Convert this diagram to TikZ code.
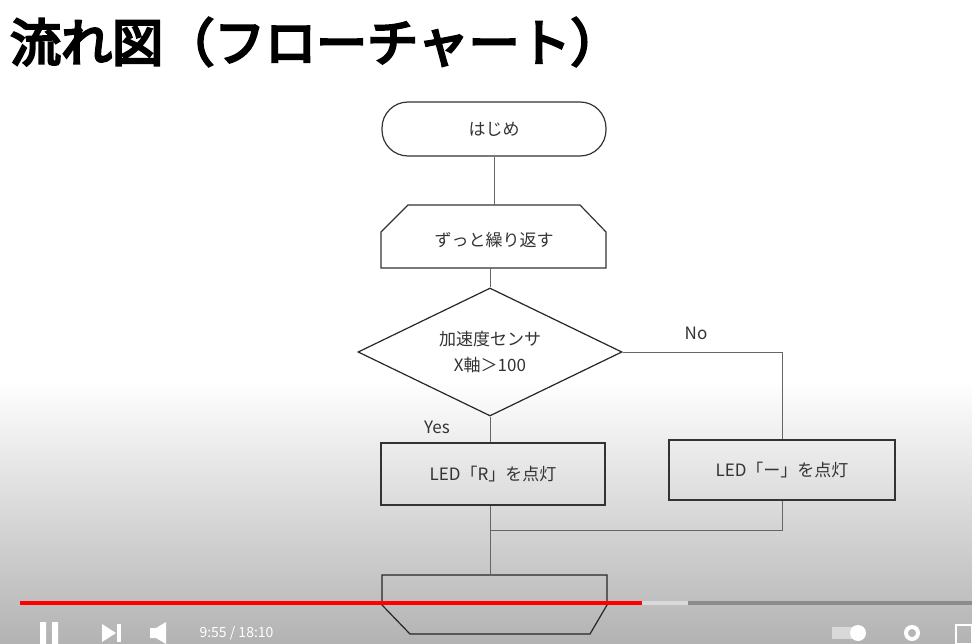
\documentclass[tikz,border=0pt]{standalone}
\usepackage{fontspec}
\setmainfont{Noto Sans CJK JP}
\newfontfamily\titlefont[AutoFakeBold=5]{Noto Sans CJK JP}
\usetikzlibrary{shapes.geometric,positioning}
\begin{document}
\begin{tikzpicture}[x=1pt,y=-1pt,
    box/.style={draw=black!80,line width=1.2pt,minimum width=224pt,minimum height=60pt,font=\fontsize{17}{19}\selectfont,text=black!80},
    flow/.style={draw=black!60,line width=0.8pt},
    lbl/.style={font=\fontsize{17}{26}\selectfont,text=black!80}]

        \useasboundingbox (0,0) rectangle (972,644);
        \fill[white] (0,0) rectangle (972,644);
        % bottom shading of the player
        \shade[top color=white,bottom color=black!30] (0,380) rectangle (972,644);

        % title
        \node[anchor=west,font=\titlefont\bfseries\fontsize{51}{54}\selectfont,inner sep=0pt] (title) at (10,42) {流れ図（フローチャート）};

        % flowchart nodes
        \node[box,rounded corners=26pt,minimum height=54pt] (start) at (494,129) {はじめ};
        \node[lbl] (loop) at (494,240) {ずっと繰り返す};
        \draw[line width=1.2pt,black!80] (408,205) -- (580,205) -- (606,232) -- (606,268)
            -- (381,268) -- (381,232) -- cycle;
        \coordinate (looptop) at (490,205);
        \coordinate (loopbot) at (490,268);
        \node[diamond,draw=black!85,line width=1.2pt,minimum width=264pt,minimum height=128pt,
            aspect=2.06,inner sep=0pt,align=center,lbl] (cond) at (490,352)
            {加速度センサ\\X軸＞100};
        \node[box,minimum height=62pt] (ledR) at (493,474) {LED「R」を点灯};
        \node[box,minimum width=226pt] (ledN) at (782,470) {LED「ー」を点灯};
        \node[lbl] (no) at (696,333) {No};
        \node[lbl] (yes) at (437,427) {Yes};
        \coordinate (merge) at (490,530);
        \coordinate (endtop) at (490,575);
        \draw[line width=1.2pt,black!85] (382,575) -- (607,575) -- (607,605) -- (590,634)
            -- (410,634) -- (382,605) -- cycle;

        % connectors
        \draw[flow] (looptop -| start.south) -- (start.south);
        \draw[flow] (loopbot) -- (cond.north);
        \draw[flow] (cond.south) -- (cond.south |- ledR.north);
        \draw[flow] (cond.east) -| (ledN.north);
        \draw[flow] (ledN.south) |- (merge);
        \draw[flow] (ledR.south -| merge) -- (endtop);

        % player bar
        \fill[black!45] (20,601) rectangle (972,605);
        \fill[black!15] (20,601) rectangle (688,605);
        \fill[red] (20,601) rectangle (642,605);
        \fill[white] (40,622) rectangle (46,644) (52,622) rectangle (58,644);
        \fill[white] (102,624) -- (116,633) -- (102,642) -- cycle;
        \fill[white] (117,624) rectangle (121,642);
        \fill[white] (150,628) rectangle (156,638) (156,628) -- (166,622) -- (166,644) -- (156,638) -- cycle;
        \node[anchor=west,text=white,font=\fontsize{14}{16}\selectfont] (time) at (196,633) {9:55 / 18:10};
        \fill[white!85!black] (832,627) rectangle (852,639);
        \fill[white] (858,633) circle (8pt);
        \draw[white,line width=4pt] (912,633) circle (6pt);
        \draw[white,line width=2pt] (956,625) rectangle (972,644);
\end{tikzpicture}
\end{document}
